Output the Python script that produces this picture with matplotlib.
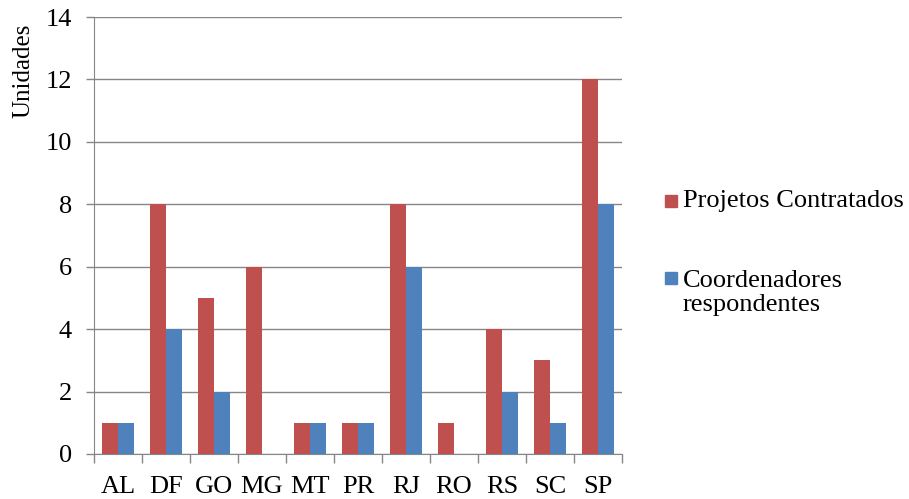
import matplotlib.pyplot as plt
import matplotlib.patches as patches
import numpy as np

# Projetos contratados x coordenadores respondentes, por UF
ufs = ["AL", "DF", "GO", "MG", "MT", "PR", "RJ", "RO", "RS", "SC", "SP"]
projetos = [1, 8, 5, 6, 1, 1, 8, 1, 4, 3, 12]
coordenadores = [1, 4, 2, 0, 1, 1, 6, 0, 2, 1, 8]
series_names = ["Projetos Contratados", "Coordenadores\nrespondentes"]

RED = "#c0504d"
BLUE = "#4f81bd"
GRID = "#868686"
FS = 19

plt.rcParams['font.family'] = ['Liberation Serif', 'DejaVu Serif']

W, H = 909, 499
fig = plt.figure(figsize=(W / 100, H / 100), dpi=100)
ax = fig.add_axes([94 / W, 45 / H, 528 / W, 437 / H])

x = np.arange(len(ufs))
w = 1 / 3
ax.bar(x - w / 2, projetos, width=w, color=RED, zorder=3)
ax.bar(x + w / 2, coordenadores, width=w, color=BLUE, zorder=3)

ax.set_xlim(-0.5, len(ufs) - 0.5)
ax.set_ylim(0, 14)
ax.set_yticks(range(0, 15, 2))
ax.yaxis.grid(True, color=GRID, linewidth=1, zorder=0)

# category labels centred, tick marks on the boundaries
ax.set_xticks(x)
ax.set_xticklabels(ufs, fontsize=FS)
ax.tick_params(axis='x', length=0, pad=16)
ax.set_xticks(np.arange(-0.5, len(ufs)), minor=True)
ax.tick_params(axis='x', which='minor', length=6.5, color=GRID, width=1)
ax.tick_params(axis='y', length=6, color=GRID, width=1, labelsize=FS, pad=10)

for s in ['top', 'right']:
    ax.spines[s].set_visible(False)
for s in ['left', 'bottom']:
    ax.spines[s].set_color(GRID)

# axis title sits at the top of the value axis
fig.text(23 / W, 1 - 71 / H, "Unidades", rotation=90, fontsize=FS - 1,
         ha='center', va='center')

# legend on the right
legend_rows = [(201, RED, series_names[0], 201), (278, BLUE, series_names[1], 293)]
for yy, col, name, ty in legend_rows:
    fig.patches.append(patches.Rectangle((665 / W, 1 - (yy + 6) / H), 12 / W, 12 / H,
                                         transform=fig.transFigure, color=col))
    fig.text(683 / W, 1 - ty / H, name, fontsize=FS, ha='left', va='center',
             linespacing=1.15)

fig.savefig("out.png", dpi=100, facecolor='white')
